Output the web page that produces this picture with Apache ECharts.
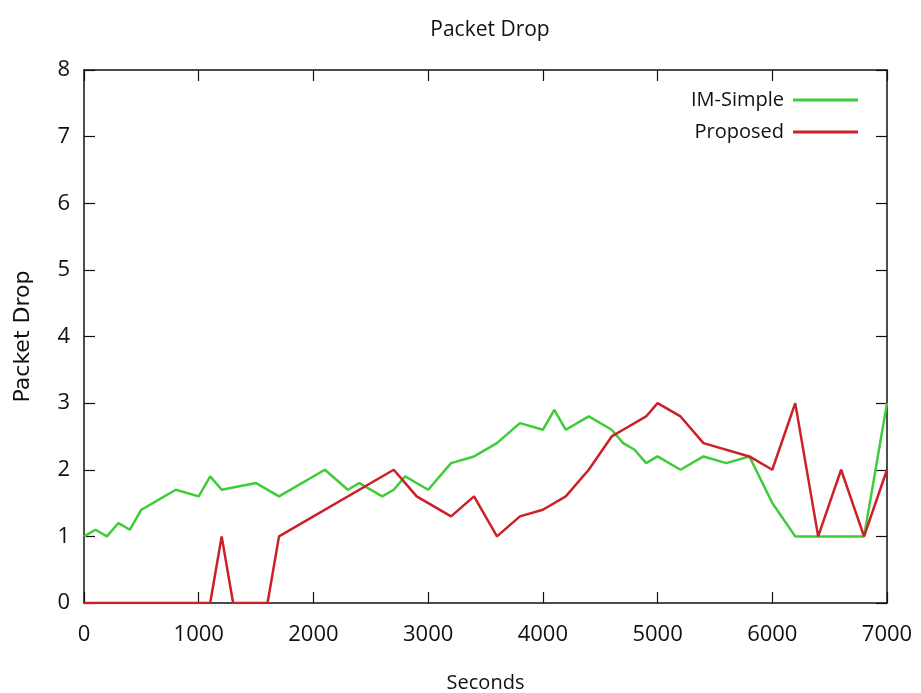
<!DOCTYPE html>
<html>
<head>
<meta charset="utf-8">
<script src="https://cdn.jsdelivr.net/npm/echarts@6/dist/echarts.min.js"></script>
<style>
  html, body { margin: 0; padding: 0; background: #fff; }
  #chart { width: 921px; height: 693px; }
</style>
</head>
<body>
<div id="chart"></div>
<script>
// values
const imSimpleSec = [0, 100, 200, 300, 400, 500, 600, 800, 1000, 1100, 1200, 1500, 1700, 2100, 2300, 2400, 2600, 2700, 2800, 3000, 3200, 3400, 3600, 3800, 4000, 4100, 4200, 4400, 4600, 4700, 4800, 4900, 5000, 5200, 5400, 5600, 5800, 6000, 6200, 6800, 7000]
const imSimpleVal = [1.0, 1.1, 1.0, 1.2, 1.1, 1.4, 1.5, 1.7, 1.6, 1.9, 1.7, 1.8, 1.6, 2.0, 1.7, 1.8, 1.6, 1.7, 1.9, 1.7, 2.1, 2.2, 2.4, 2.7, 2.6, 2.9, 2.6, 2.8, 2.6, 2.4, 2.3, 2.1, 2.2, 2.0, 2.2, 2.1, 2.2, 1.5, 1.0, 1.0, 3.0]
const proposedSec = [0, 1100, 1200, 1300, 1600, 1700, 2700, 2900, 3200, 3400, 3600, 3800, 4000, 4200, 4400, 4600, 4700, 4900, 5000, 5200, 5400, 5800, 6000, 6200, 6400, 6600, 6800, 7000]
const proposedVal = [0, 0, 1, 0, 0, 1, 2, 1.6, 1.3, 1.6, 1.0, 1.3, 1.4, 1.6, 2.0, 2.5, 2.6, 2.8, 3.0, 2.8, 2.4, 2.2, 2.0, 3.0, 1.0, 2.0, 1.0, 2.0]

const seriesNames = ['IM-Simple', 'Proposed']
const seriesColors = ['#3fcc3a', '#cc2028']

const zip = (xs, ys) => xs.map((x, i) => [x, ys[i]])

const font = "'Open Sans', 'Noto Sans', sans-serif"

const chart = echarts.init(document.getElementById('chart'))

const axisLine = { show: true, onZero: false, lineStyle: { color: '#111', width: 1.5 } }
const tick = { show: true, inside: true, length: 11, lineStyle: { color: '#111', width: 1.2 } }
const plain = v => String(v)

chart.setOption({
  animation: false,
  backgroundColor: '#fff',
  title: {
    text: 'Packet Drop',
    left: 485,
    textAlign: 'center',
    top: 15,
    textStyle: { fontFamily: font, fontSize: 21, fontWeight: 'normal', color: '#111' }
  },
  legend: {
    orient: 'vertical',
    right: 58,
    top: 85,
    align: 'right',
    icon: 'rect',
    itemWidth: 65,
    itemHeight: 3,
    itemGap: 12,
    textStyle: { fontFamily: font, fontSize: 20, color: '#111', padding: [0, 4, 0, 0] },
    data: seriesNames
  },
  grid: { left: 84, right: 34, top: 70, bottom: 90, outerBoundsMode: 'none' },
  xAxis: [{
    type: 'value',
    min: 0,
    max: 7000,
    interval: 1000,
    name: 'Seconds',
    nameLocation: 'middle',
    nameGap: 70,
    nameTextStyle: { fontFamily: font, fontSize: 20, color: '#111' },
    axisLine,
    axisTick: tick,
    axisLabel: { fontFamily: font, fontSize: 22, color: '#111', margin: 21, formatter: plain },
    splitLine: { show: false }
  }, {
    type: 'value',
    position: 'top',
    min: 0,
    max: 7000,
    interval: 1000,
    axisLine,
    axisTick: tick,
    axisLabel: { show: false },
    splitLine: { show: false }
  }],
  yAxis: [{
    type: 'value',
    min: 0,
    max: 8,
    interval: 1,
    name: 'Packet Drop',
    nameLocation: 'middle',
    nameGap: 50,
    nameTextStyle: { fontFamily: "'DejaVu Sans', sans-serif", fontSize: 22, color: '#111' },
    axisLine,
    axisTick: tick,
    axisLabel: { fontFamily: font, fontSize: 22, color: '#111', margin: 14, formatter: plain },
    splitLine: { show: false }
  }, {
    type: 'value',
    position: 'right',
    min: 0,
    max: 8,
    interval: 1,
    axisLine,
    axisTick: tick,
    axisLabel: { show: false },
    splitLine: { show: false }
  }],
  series: [{
    name: seriesNames[0],
    type: 'line',
    data: zip(imSimpleSec, imSimpleVal),
    showSymbol: false,
    color: seriesColors[0],
    lineStyle: { width: 2.5 }
  }, {
    name: seriesNames[1],
    type: 'line',
    data: zip(proposedSec, proposedVal),
    showSymbol: false,
    color: seriesColors[1],
    lineStyle: { width: 2.5 }
  }]
})
</script>
</body>
</html>
